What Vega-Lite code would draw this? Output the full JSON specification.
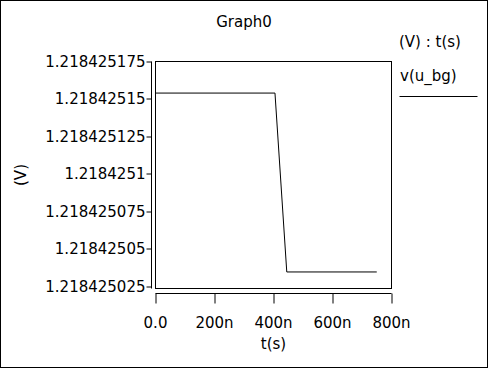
{
  "$schema": "https://vega.github.io/schema/vega-lite/v6.json",
  "width": 488,
  "height": 368,
  "autosize": {"type": "none"},
  "padding": 0,
  "background": "white",
  "config": {
    "view": {"stroke": "black", "strokeWidth": 2},
    "font": "DejaVu Sans",
    "axis": {
      "translate": 0,
      "grid": false,
      "domainColor": "black",
      "tickColor": "black",
      "labelColor": "black",
      "titleColor": "black",
      "labelFontSize": 15,
      "titleFontSize": 15,
      "titleFontWeight": "normal",
      "labelFlush": false,
      "labelOverlap": false
    }
  },
  "title": {
    "text": "Graph0",
    "anchor": "middle",
    "frame": "group",
    "offset": -26,
    "dy": 16,
    "baseline": "alphabetic",
    "fontSize": 15,
    "fontWeight": "normal",
    "color": "black"
  },
  "data": {
    "values": [
      {"t": 0, "v": 1.218425154, "series": "v(u_bg)"},
      {"t": 4.05e-7, "v": 1.218425154, "series": "v(u_bg)"},
      {"t": 4.45e-7, "v": 1.218425035, "series": "v(u_bg)"},
      {"t": 7.5e-7, "v": 1.218425035, "series": "v(u_bg)"}
    ]
  },
  "layer": [
    {
      "mark": {"type": "line", "strokeWidth": 1, "interpolate": "linear"},
      "encoding": {
        "x": {
          "field": "t",
          "type": "quantitative",
          "scale": {"domain": [0, 8e-7], "range": [155.5, 391.5], "nice": false, "zero": false},
          "axis": {
            "title": "t(s)",
            "values": [0, 2e-7, 4e-7, 6e-7, 8e-7],
            "labelExpr": "datum.value == 0 ? '0.0' : round(datum.value * 1e9) + 'n'",
            "tickSize": 10,
            "labelPadding": 12,
            "offset": -74.5,
            "titlePadding": 6
          }
        },
        "y": {
          "field": "v",
          "type": "quantitative",
          "scale": {"domain": [1.218425024, 1.218425175], "range": [288.5, 61.5], "nice": false, "zero": false},
          "axis": {
            "title": "(V)",
            "values": [1.218425025, 1.21842505, 1.218425075, 1.2184251, 1.218425125, 1.21842515, 1.218425175],
            "format": ".10~g",
            "tickSize": 5,
            "labelPadding": 1,
            "offset": -151.5,
            "titlePadding": 16
          }
        },
        "color": {
          "field": "series",
          "type": "nominal",
          "scale": {"range": ["black"]},
          "legend": {
            "title": "(V) : t(s)",
            "orient": "none",
            "legendX": 399,
            "legendY": 35,
            "symbolType": "stroke",
            "symbolSize": 6084,
            "symbolStrokeWidth": 1,
            "symbolStrokeColor": "black",
            "labelFontSize": 15,
            "labelColor": "black",
            "labelOffset": 0,
            "titleFontSize": 15,
            "titleFontWeight": "normal",
            "titleColor": "black",
            "titlePadding": 7,
            "encode": {
              "labels": {"update": {"dx": {"value": -78}, "dy": {"value": -21}}}
            }
          }
        }
      }
    },
    {
      "mark": {"type": "rect", "fill": null, "fillOpacity": 0, "stroke": "black", "strokeWidth": 1},
      "encoding": {
        "x": {"datum": 0, "type": "quantitative"},
        "x2": {"datum": 8e-7},
        "y": {"datum": 1.218425024, "type": "quantitative"},
        "y2": {"datum": 1.218425175}
      }
    }
  ]
}
